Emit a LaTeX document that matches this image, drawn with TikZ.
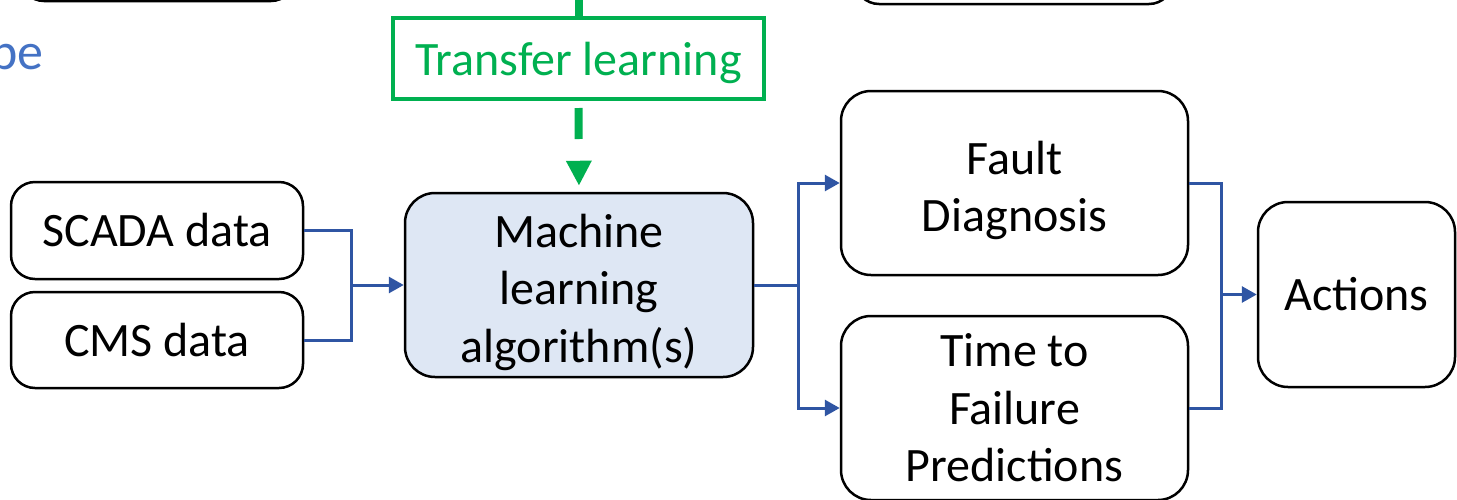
\documentclass[tikz,border=0pt]{standalone}
\usepackage{fontspec}
\setmainfont{Carlito}
\usetikzlibrary{arrows.meta,positioning}
\definecolor{flowblue}{HTML}{2F55A3}
\definecolor{tlgreen}{HTML}{00B050}
\definecolor{mlfill}{HTML}{DEE7F4}
\definecolor{notetext}{HTML}{4472C4}
\newcommand{\toplift}{\rule{0pt}{48pt}}

\begin{document}
\begin{tikzpicture}[x=1pt, y=-1pt,
    box/.style={draw, line width=2.5pt, rounded corners=24pt, align=center, inner sep=0pt,
      font=\fontsize{48}{57.5}\selectfont},
    bigbox/.style={box, rounded corners=30pt, minimum width=347pt, minimum height=184pt},
    conn/.style={flowblue, line width=3pt},
    tip/.style={-{Triangle[length=15pt,width=16pt]}},
    tlline/.style={tlgreen, line width=8pt}]
  \path[use as bounding box, clip] (0,0) rectangle (1457,499);

  % boxes cut off at the top
  \node[box, minimum width=275pt, minimum height=100pt] (upleft) at (157.5,-49) {};
  \node[box, minimum width=318pt, minimum height=100pt] (upright) at (1014,-46) {};
  \node[anchor=base east, text=notetext, font=\fontsize{52}{60}\selectfont] (note) at (47,69) {pe};

  % inputs
  \node[box, minimum width=292pt, minimum height=97pt] (scada) at (157,230.5) {SCADA data};
  \node[box, minimum width=292pt, minimum height=96pt] (cms) at (157,340) {CMS data};

  \node[bigbox, fill=mlfill, minimum width=348pt] (ml) at (579,285) {\toplift Machine\\learning\\algorithm(s)};
  \node[draw=tlgreen, line width=4pt, text=tlgreen, inner sep=0pt, minimum width=371pt,
    minimum height=81pt, text height=33pt, text depth=0pt,
    font=\fontsize{48}{57.5}\selectfont] (tl) at (578.5,58.5) {Transfer learning};

  % outputs
  \node[bigbox] (fault) at (1014.5,183) {\toplift Fault\\Diagnosis};
  \node[bigbox] (time) at (1014.5,408) {Time to\\Failure\\Predictions};
  \node[bigbox, minimum width=197pt, minimum height=185pt] (act) at (1356.5,294.5) {Actions};

  \coordinate (tltop) at (578.5,-10);
  \coordinate[left=52pt of ml.west] (jin);
  \coordinate[right=44pt of ml.east] (jout);
  \coordinate[left=35pt of act.west] (jact);

  \draw[tlline] (tl.north) -- (tltop);
  \draw[tlline, dash pattern=on 31pt off 32pt, dash phase=56pt,
    -{Triangle[length=25pt,width=24pt]}, shorten >=6pt] (tl.south) -- (ml.north);

  \draw[conn] (scada.east) -| (jin) |- (cms.east);
  \draw[conn, tip] (jin) -- (ml.west);
  \draw[conn] (ml.east) -- (jout);
  \draw[conn, tip] (jout) |- (fault.west);
  \draw[conn, tip] (jout) |- (time.west);
  \draw[conn] (fault.east) -| (jact) |- (time.east);
  \draw[conn, tip] (jact) -- (act.west);
\end{tikzpicture}
\end{document}
